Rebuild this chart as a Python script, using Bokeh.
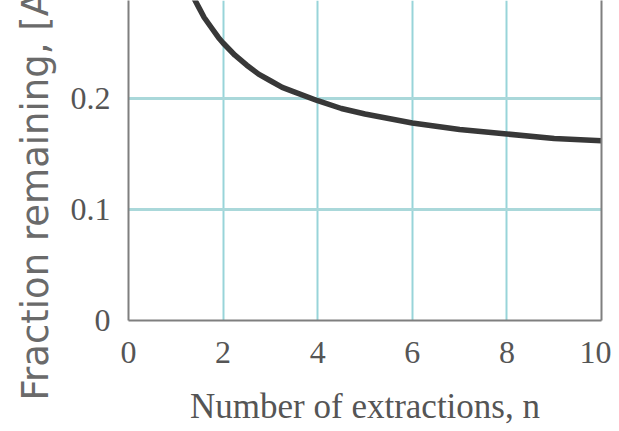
from bokeh.plotting import figure
from bokeh.models import Range1d, LinearAxis, Title, FixedTicker
from bokeh.embed import file_html
from bokeh.resources import INLINE

# Data
n_extractions = [1.0, 1.1, 1.2, 1.3, 1.4, 1.5, 1.6, 1.75, 1.9, 2, 2.25, 2.5, 2.75, 3,
                 3.25, 3.5, 4, 4.5, 5, 5.5, 6, 7, 8, 9, 10]
fraction_remaining = [0.333, 0.320, 0.308, 0.298, 0.289, 0.281, 0.273, 0.264, 0.255,
                      0.250, 0.239, 0.230, 0.222, 0.216, 0.210, 0.206, 0.198, 0.191,
                      0.186, 0.182, 0.178, 0.172, 0.168, 0.164, 0.162]
x_ticks = [0, 2, 4, 6, 8, 10]
y_ticks = [0, 0.1, 0.2, 0.3]
y_tick_labels = {0: "0", 0.1: "0.1", 0.2: "0.2", 0.3: "0.3"}

p = figure(width=611, height=431, output_backend="svg", toolbar_location=None,
           x_range=Range1d(0, 10), y_range=Range1d(0, 0.2883),
           min_border_left=128, min_border_right=10, min_border_top=0,
           min_border_bottom=111)
p.outline_line_color = None
p.background_fill_color = "white"
p.border_fill_color = "white"

# grids
p.xgrid.ticker = FixedTicker(ticks=[2, 4, 6, 8])
p.ygrid.ticker = FixedTicker(ticks=[0.1, 0.2, 0.3])
p.xgrid.grid_line_color = "#98d4d9"
p.xgrid.grid_line_width = 2
p.ygrid.grid_line_color = "#aad8da"
p.ygrid.grid_line_width = 3

# curve
p.line(n_extractions, fraction_remaining, line_color="#383838", line_width=5.5,
       line_join="round")

tick_font = "Liberation Serif"
for ax in (p.xaxis[0], p.yaxis[0]):
    ax.axis_line_color = "#7f7f7f"
    ax.axis_line_width = 2
    ax.major_tick_line_color = None
    ax.minor_tick_line_color = None
    ax.major_label_text_font = tick_font
    ax.major_label_text_font_size = "32px"
    ax.major_label_text_color = "#555555"

p.xaxis.ticker = FixedTicker(ticks=x_ticks)
p.xaxis.major_label_standoff = 15
p.xaxis.axis_label = "Number of extractions, n"
p.xaxis.axis_label_text_font = tick_font
p.xaxis.axis_label_text_font_style = "normal"
p.xaxis.axis_label_text_font_size = "35px"
p.xaxis.axis_label_text_color = "#555555"
p.xaxis.axis_label_standoff = 21

p.yaxis.ticker = FixedTicker(ticks=y_ticks)
p.yaxis.major_label_overrides = y_tick_labels
p.yaxis.major_label_standoff = 12

# right frame edge
right = LinearAxis(ticker=FixedTicker(ticks=[]), axis_line_color="#7f7f7f",
                   axis_line_width=2, major_tick_line_color=None,
                   minor_tick_line_color=None, major_label_text_font_size="0px")
p.add_layout(right, "right")

# y axis title, starting below the frame and running off the top
ytitle = Title(text="Fraction remaining, [A]/[A]\u2080", align="left", offset=-80,
               standoff=17, vertical_align="top", text_font="DejaVu Sans",
               text_font_size="37px", text_font_style="normal",
               text_color="#6a6a6a")
p.add_layout(ytitle, "left")

open("out.html", "w").write(file_html(p, INLINE))
